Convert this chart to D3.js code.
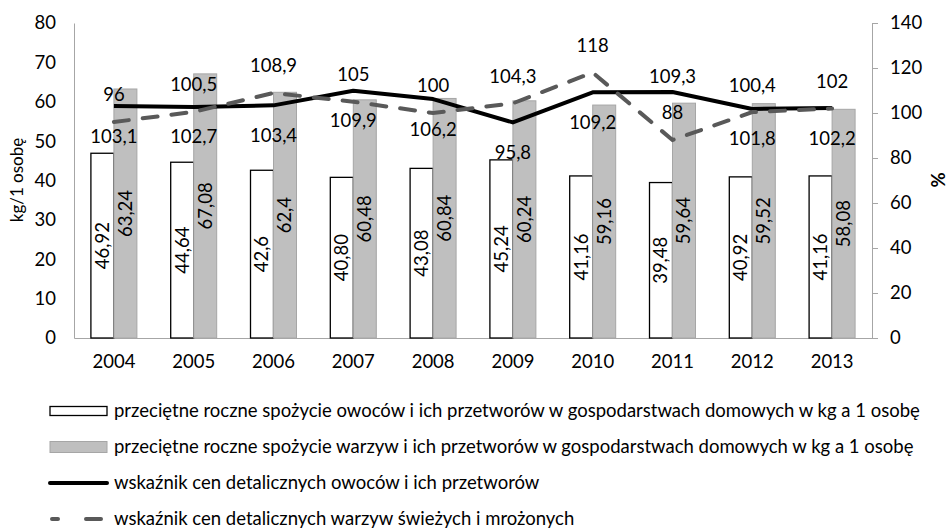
<!DOCTYPE html>
<html>
<head>
<meta charset="utf-8">
<style>
  body { margin: 0; background: #fff; }
  text { font-family: Lato, "Open Sans", sans-serif; fill: #000; }
</style>
</head>
<body>
<svg width="949" height="529"></svg>
<script src="https://d3js.org/d3.v7.min.js"></script>
<script>
const years = ["2004", "2005", "2006", "2007", "2008", "2009", "2010", "2011", "2012", "2013"];
const fruitKg = [46.92, 44.64, 42.6, 40.80, 43.08, 45.24, 41.16, 39.48, 40.92, 41.16];
const fruitKgText = ["46,92", "44,64", "42,6", "40,80", "43,08", "45,24", "41,16", "39,48", "40,92", "41,16"];
const vegKg = [63.24, 67.08, 62.4, 60.48, 60.84, 60.24, 59.16, 59.64, 59.52, 58.08];
const vegKgText = ["63,24", "67,08", "62,4", "60,48", "60,84", "60,24", "59,16", "59,64", "59,52", "58,08"];
const fruitPrice = [103.1, 102.7, 103.4, 109.9, 106.2, 95.8, 109.2, 109.3, 101.8, 102.2];
const vegPrice = [96, 100.5, 108.9, 105, 100, 104.3, 118, 88, 100.4, 102];
const leftTicks = [0, 10, 20, 30, 40, 50, 60, 70, 80];
const rightTicks = [0, 20, 40, 60, 80, 100, 120, 140];
const legendNames = [
  "przeciętne roczne spożycie owoców i ich przetworów w gospodarstwach domowych w kg a 1 osobę",
  "przeciętne roczne spożycie warzyw i ich przetworów w gospodarstwach domowych w kg a 1 osobę",
  "wskaźnik cen detalicznych owoców i ich przetworów",
  "wskaźnik cen detalicznych warzyw świeżych i mrożonych"
];

const fs = 18.5;
const mLeft = 74, mRight = 872, mTop = 23, mBottom = 338;
const svg = d3.select("svg");

const x = d3.scaleBand().domain(years).range([mLeft, mRight]);
const inner = d3.scaleBand().domain(["f", "v"]).range([0, x.bandwidth()]).paddingOuter(0.735);
const yL = d3.scaleLinear().domain([0, 80]).range([mBottom, mTop]);
const yR = d3.scaleLinear().domain([0, 140]).range([mBottom, mTop]);
const comma = v => String(v).replace(".", ",");

// axes
const axL = svg.append("g").attr("transform", `translate(${mLeft},0)`)
  .call(d3.axisLeft(yL).tickValues(leftTicks).tickSize(0).tickPadding(18));
const axR = svg.append("g").attr("transform", `translate(${mRight},0)`)
  .call(d3.axisRight(yR).tickValues(rightTicks).tickSize(6).tickPadding(12));
[axL, axR].forEach(a => {
  a.select(".domain").attr("stroke", "#a6a6a6");
  a.selectAll(".tick line").attr("stroke", "#a6a6a6");
  a.selectAll("text").attr("font-size", fs).attr("font-family", "Lato");
});
const axB = svg.append("g").attr("transform", `translate(0,${mBottom})`)
  .call(d3.axisBottom(x).tickSize(0).tickPadding(17));
axB.select(".domain").attr("stroke", "#a6a6a6");
axB.selectAll("text").attr("font-size", fs).attr("font-family", "Lato");

// bars
const g = svg.append("g");
g.selectAll(".fb").data(years).enter().append("rect")
  .attr("x", d => x(d) + inner("f")).attr("width", inner.bandwidth())
  .attr("y", (d, i) => yL(fruitKg[i])).attr("height", (d, i) => mBottom - yL(fruitKg[i]))
  .attr("fill", "#fff").attr("stroke", "#000").attr("stroke-width", 1.3);
g.selectAll(".vb").data(years).enter().append("rect")
  .attr("x", d => x(d) + inner("v")).attr("width", inner.bandwidth())
  .attr("y", (d, i) => yL(vegKg[i])).attr("height", (d, i) => mBottom - yL(vegKg[i]))
  .attr("fill", "#bfbfbf").attr("stroke", "#a6a6a6").attr("stroke-width", 1);

// bar labels, rotated, centred in bars
function barLabels(vals, txt, key) {
  g.selectAll(".l" + key).data(years).enter().append("text")
    .attr("transform", (d, i) => `translate(${x(d) + inner(key) + inner.bandwidth() / 2},${(yL(vals[i]) + mBottom) / 2}) rotate(-90)`)
    .attr("text-anchor", "middle").attr("dy", "0.35em")
    .attr("font-size", fs).text((d, i) => txt[i]);
}
barLabels(fruitKg, fruitKgText, "f");
barLabels(vegKg, vegKgText, "v");

// lines
const cx = d => x(d) + x.bandwidth() / 2;
const line = vals => d3.line().x((d, i) => cx(years[i])).y(d => yR(d))(vals);
svg.append("path").attr("d", line(fruitPrice)).attr("fill", "none")
  .attr("stroke", "#000").attr("stroke-width", 4).attr("stroke-linejoin", "round");
svg.append("path").attr("d", line(vegPrice)).attr("fill", "none")
  .attr("stroke", "#595959").attr("stroke-width", 4).attr("stroke-linecap", "round")
  .attr("stroke-dasharray", "15,14");

// line labels: fruit index below point (2011 above), veg index above
const fruitAbove = [false, false, false, false, false, false, false, true, false, false];
svg.selectAll(".fp").data(years).enter().append("text")
  .attr("x", cx).attr("y", (d, i) => yR(fruitPrice[i]) + (fruitAbove[i] ? -16 : 30))
  .attr("text-anchor", "middle").attr("dy", "0.35em").attr("font-size", fs)
  .text((d, i) => comma(fruitPrice[i]));
svg.selectAll(".vp").data(years).enter().append("text")
  .attr("x", cx).attr("y", (d, i) => yR(vegPrice[i]) - 27)
  .attr("text-anchor", "middle").attr("dy", "0.35em").attr("font-size", fs)
  .text((d, i) => comma(vegPrice[i]));

// axis titles
svg.append("text").attr("transform", "translate(23,180) rotate(-90)")
  .attr("text-anchor", "middle").attr("font-size", 17).text("kg/1 osobę");
svg.append("text").attr("transform", "translate(945,180) rotate(-90)")
  .attr("text-anchor", "middle").attr("font-size", fs).attr("font-weight", "bold").text("%");

// legend
const lg = svg.append("g");
const rowY = [411, 447, 483, 519];
const lx0 = 50, lx1 = 107;
lg.append("rect").attr("x", lx0).attr("y", rowY[0] - 4.5).attr("width", lx1 - lx0).attr("height", 9)
  .attr("fill", "#fff").attr("stroke", "#000").attr("stroke-width", 1.3);
lg.append("rect").attr("x", lx0).attr("y", rowY[1] - 5.5).attr("width", lx1 - lx0).attr("height", 11)
  .attr("fill", "#bfbfbf").attr("stroke", "#a6a6a6");
lg.append("line").attr("x1", lx0).attr("x2", lx1).attr("y1", rowY[2]).attr("y2", rowY[2])
  .attr("stroke", "#000").attr("stroke-width", 4).attr("stroke-linecap", "round");
lg.append("line").attr("x1", lx0 + 2).attr("x2", lx1).attr("y1", rowY[3]).attr("y2", rowY[3])
  .attr("stroke", "#595959").attr("stroke-width", 4).attr("stroke-linecap", "round")
  .attr("stroke-dasharray", "6,28,15,100");
lg.selectAll(".lt").data(legendNames).enter().append("text")
  .attr("x", 114).attr("y", (d, i) => rowY[i]).attr("dy", "0.35em")
  .attr("font-size", fs).text(d => d);
</script>
</body>
</html>
